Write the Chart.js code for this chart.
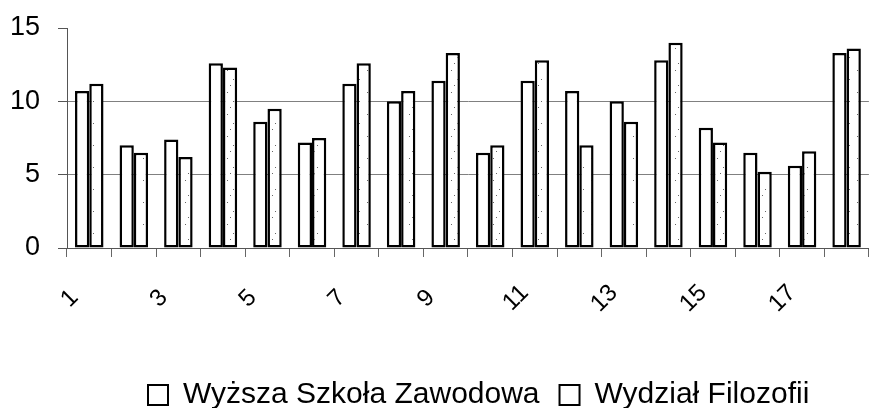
<!DOCTYPE html>
<html>
<head>
<meta charset="utf-8">
<script src="https://cdn.jsdelivr.net/npm/chart.js@4/dist/chart.umd.min.js"></script>
<style>
  html, body { margin: 0; padding: 0; background: #fff; }
  #wrap { width: 889px; height: 408px; position: relative; }
</style>
</head>
<body>
<div id="wrap"><canvas id="c"></canvas></div>
<script>
const categories = ['1','2','3','4','5','6','7','8','9','10','11','12','13','14','15','16','17','18'];
const xTickLabels = ['1','','3','','5','','7','','9','','11','','13','','15','','17',''];
const seriesNames = ['Wyższa Szkoła Zawodowa', 'Wydział Filozofii'];
const wszValues = [10.7, 7.0, 7.4, 12.6, 8.6, 7.2, 11.2, 10.0, 11.4, 6.5, 11.4, 10.7, 10.0, 12.8, 8.2, 6.5, 5.6, 13.3];
const wfValues  = [11.2, 6.5, 6.2, 12.3, 9.5, 7.5, 12.6, 10.7, 13.3, 7.0, 12.8, 7.0, 8.6, 14.0, 7.2, 5.2, 6.6, 13.6];
const yTicks = [0, 5, 10, 15];

// sparse stipple pattern for the second series
function stipple() {
  const p = document.createElement('canvas');
  p.width = 14; p.height = 22;
  const g = p.getContext('2d');
  g.fillStyle = '#fff'; g.fillRect(0, 0, 14, 22);
  g.fillStyle = '#666';
  g.fillRect(3, 4, 1, 1);
  g.fillRect(9, 13, 1, 1);
  g.fillRect(6, 19, 1, 1);
  return g.createPattern(p, 'repeat');
}

const FONT = '"Liberation Sans", Arial, sans-serif';

// place the legend row where the reference has it
const legendPlacer = {
  id: 'legendPlacer',
  afterLayout(chart) {
    const lg = chart.legend;
    if (!lg) return;
    const pad = lg.options.labels.padding;
    const w = lg.right - lg.left, h = lg.bottom - lg.top;
    lg.left = 148 - pad; lg.right = lg.left + w;
    lg.top = 380 - pad; lg.bottom = lg.top + h;
  }
};

new Chart(document.getElementById('c'), {
  type: 'bar',
  data: {
    labels: categories,
    datasets: [
      { label: seriesNames[0], data: wszValues, backgroundColor: '#fff', borderColor: '#000', borderWidth: 2.5, borderSkipped: false },
      { label: seriesNames[1], data: wfValues, backgroundColor: stipple(), borderColor: '#000', borderWidth: 2.5, borderSkipped: false }
    ]
  },
  options: {
    responsive: true,
    maintainAspectRatio: false,
    animation: false,
    layout: { padding: { left: 0, right: 1, top: 28, bottom: 0 } },
    datasets: { bar: { barPercentage: 1.0, categoryPercentage: 0.64 } },
    plugins: {
      tooltip: { enabled: false },
      legend: {
        position: 'bottom',
        align: 'start',
        labels: {
          font: { family: FONT, size: 30 },
          color: '#000',
          boxWidth: 20,
          boxHeight: 20,
          padding: 20,
          generateLabels(chart) {
            const items = Chart.defaults.plugins.legend.labels.generateLabels(chart);
            items.forEach(it => { it.fillStyle = '#fff'; it.strokeStyle = '#000'; it.lineWidth = 2; });
            return items;
          }
        }
      }
    },
    scales: {
      x: {
        offset: true,
        grid: { drawOnChartArea: false, drawTicks: true, tickLength: 9, color: '#666', offset: true },
        border: { color: '#555', width: 1 },
        ticks: {
          autoSkip: false,
          minRotation: 45,
          maxRotation: 45,
          padding: 22,
          labelOffset: -10,
          font: { family: FONT, size: 24 },
          color: '#000',
          // one-digit labels get a punctuation space so they sit like the reference's
          callback: (v, i) => xTickLabels[i] && xTickLabels[i].length === 1 ? xTickLabels[i] + '\u2008' : xTickLabels[i]
        },
        afterFit(scale) { scale.height = 100; }
      },
      y: {
        min: 0,
        max: 15,
        afterBuildTicks(scale) { scale.ticks = yTicks.map(v => ({ value: v })); },
        grid: {
          color: ctx => (ctx.tick && (ctx.tick.value === 5 || ctx.tick.value === 10)) ? '#808080' : 'rgba(0,0,0,0)',
          drawTicks: true,
          tickLength: 9,
          tickColor: '#555'
        },
        border: { color: '#555', width: 1 },
        ticks: {
          padding: 18,
          font: { family: FONT, size: 27 },
          color: '#000'
        },
        afterFit(scale) { scale.width = 67; scale.paddingTop = 0; scale.paddingBottom = 0; }
      }
    }
  },
  plugins: [legendPlacer]
});
</script>
</body>
</html>
